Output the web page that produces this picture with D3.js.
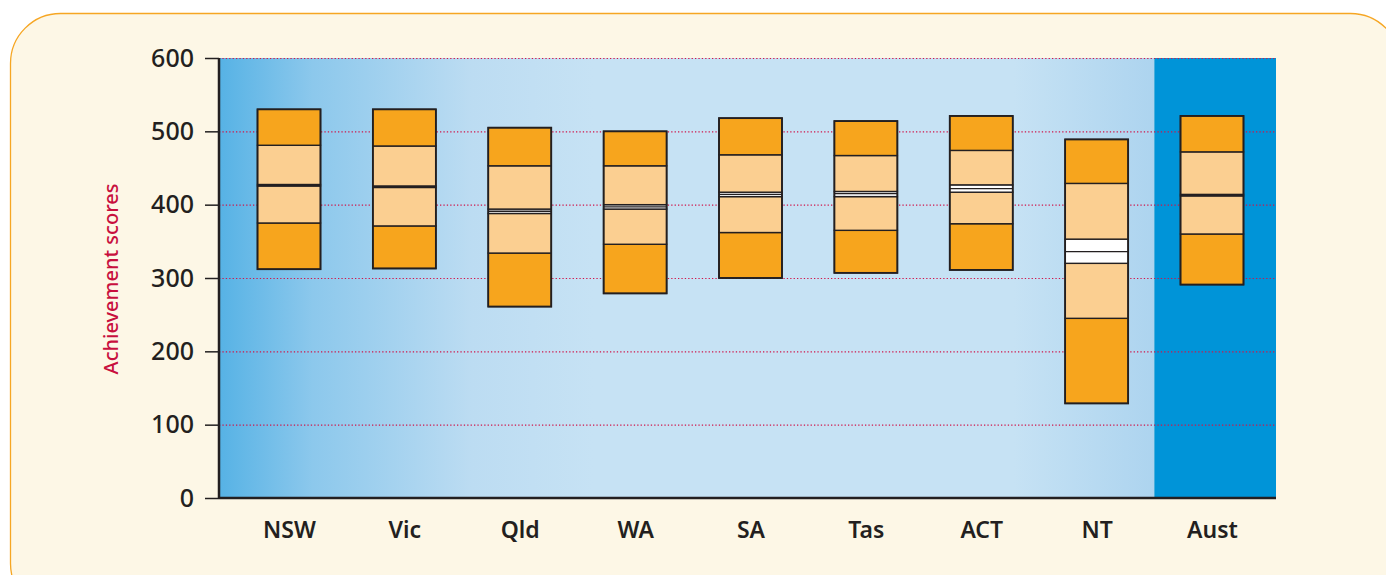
<!DOCTYPE html>
<html>
<head>
<meta charset="utf-8">
<script src="https://cdn.jsdelivr.net/npm/d3@7"></script>
<style>
  html, body { margin: 0; padding: 0; background: #ffffff; }
  svg { display: block; }
  text { font-family: "Noto Sans", "Open Sans", sans-serif; }
</style>
</head>
<body>
<svg id="chart" width="1386" height="575"></svg>
<script>
// ---- data ----
const categories = ["NSW", "Vic", "Qld", "WA", "SA", "Tas", "ACT", "NT", "Aust"];
const p5     = [312, 313, 261, 279, 300, 307, 311, 129, 291];
const p25    = [375, 371, 334, 346, 362, 365, 374, 245, 360];
const ciLow  = [425.5, 423.5, 388, 394, 411, 411, 417, 320, 412];
const mean   = [426.5, 424.5, 391, 397, 414, 415, 422, 336, 413];
const ciHigh = [427.5, 425.5, 394, 400, 417, 418, 427, 353, 414];
const p75    = [481, 480, 453, 453, 468, 467, 474, 429, 472];
const p95    = [530, 530, 505, 500, 518, 514, 521, 489, 521];
const yTicks = [0, 100, 200, 300, 400, 500, 600];
const yTitle = "Achievement scores";

const rows = categories.map((c, i) => ({
  cat: c, p5: p5[i], p25: p25[i], lo: ciLow[i], mean: mean[i], hi: ciHigh[i], p75: p75[i], p95: p95[i]
}));

const svg = d3.select("#chart");
const plotLeft = 219, plotRight = 1276, plotTop = 58, plotBottom = 498;

const x = d3.scalePoint().domain(categories).range([289, 1212]);
const y = d3.scaleLinear().domain([0, 600]).range([plotBottom, plotTop]);
const boxW = 63;

// defs: gradient
const defs = svg.append("defs");
const grad = defs.append("linearGradient").attr("id", "bg").attr("x1", "0").attr("x2", "1").attr("y1", "0").attr("y2", "0");
[[0, "#56b2e5"], [0.1, "#8cc8ec"], [0.27, "#bcdcf2"], [0.4, "#c6e2f4"], [0.85, "#c6e2f4"], [1, "#add4ef"]]
  .forEach(([o, c]) => grad.append("stop").attr("offset", o).attr("stop-color", c));

// outer panel
svg.append("rect").attr("x", 10.5).attr("y", 13.5).attr("width", 1390).attr("height", 600)
  .attr("rx", 50).attr("ry", 50).attr("fill", "#fdf7e6").attr("stroke", "#f6a623").attr("stroke-width", 1.3);

const austLeft = (x("NT") + x("Aust")) / 2;

// plot backgrounds
svg.append("rect").attr("x", plotLeft).attr("y", y(600)).attr("width", austLeft - plotLeft)
  .attr("height", y(0) - y(600)).attr("fill", "url(#bg)");
svg.append("rect").attr("x", austLeft).attr("y", y(600)).attr("width", plotRight - austLeft)
  .attr("height", y(0) - y(600)).attr("fill", "#0094d8");

// grid
svg.append("g").selectAll("line").data(yTicks.filter(t => t > 0)).join("line")
  .attr("x1", plotLeft).attr("x2", plotRight)
  .attr("y1", d => y(d) + 0.5).attr("y2", d => y(d) + 0.5)
  .attr("stroke", "#d0154a").attr("stroke-width", 1.2).attr("stroke-dasharray", "1.3,2.1");

// boxes
const g = svg.append("g");
const segs = [
  ["p5", "p25", "#f7a51d"],
  ["p25", "lo", "#fbcf91"],
  ["lo", "hi", "#ffffff"],
  ["hi", "p75", "#fbcf91"],
  ["p75", "p95", "#f7a51d"]
];
rows.forEach(r => {
  const cx = x(r.cat);
  segs.forEach(([a, b, col]) => {
    g.append("rect")
      .attr("x", cx - boxW / 2).attr("width", boxW)
      .attr("y", y(r[b])).attr("height", y(r[a]) - y(r[b]))
      .attr("fill", col).attr("stroke", "#231f20").attr("stroke-width", 1.4);
  });
  g.append("line").attr("x1", cx - boxW / 2).attr("x2", cx + boxW / 2)
    .attr("y1", y(r.mean)).attr("y2", y(r.mean))
    .attr("stroke", "#231f20").attr("stroke-width", 1.3);
  // outer outline
  g.append("rect").attr("x", cx - boxW / 2).attr("width", boxW)
    .attr("y", y(r.p95)).attr("height", y(r.p5) - y(r.p95))
    .attr("fill", "none").attr("stroke", "#231f20").attr("stroke-width", 1.8);
});

// y axis
const yAxis = svg.append("g").attr("transform", `translate(${plotLeft},0)`)
  .call(d3.axisLeft(y).tickValues(yTicks).tickSize(14).tickPadding(11).tickFormat(d3.format("d")));
yAxis.select(".domain").remove();
yAxis.selectAll(".tick line").attr("stroke", "#231f20").attr("stroke-width", 1.5);
yAxis.selectAll(".tick text").attr("font-size", 25).attr("font-weight", 500).attr("fill", "#231f20")
  .attr("font-family", "'Noto Sans', sans-serif");
svg.append("line").attr("x1", plotLeft).attr("x2", plotLeft).attr("y1", plotTop).attr("y2", plotBottom + 1)
  .attr("stroke", "#231f20").attr("stroke-width", 2.5);

// x axis
svg.append("line").attr("x1", plotLeft).attr("x2", plotRight).attr("y1", plotBottom).attr("y2", plotBottom)
  .attr("stroke", "#231f20").attr("stroke-width", 2.5);
const xAxis = svg.append("g").attr("transform", `translate(0,${plotBottom})`)
  .call(d3.axisBottom(x).tickSize(0).tickPadding(24));
xAxis.select(".domain").remove();
xAxis.selectAll(".tick text").attr("font-size", 23).attr("font-weight", 600).attr("fill", "#231f20")
  .attr("font-family", "'Noto Sans', sans-serif");

// y title
svg.append("text").attr("transform", `translate(118,${(plotTop + plotBottom) / 2 + 1}) rotate(-90)`)
  .attr("text-anchor", "middle").attr("font-size", 20).attr("font-weight", 500).attr("fill", "#c8103e")
  .text(yTitle);
</script>
</body>
</html>
